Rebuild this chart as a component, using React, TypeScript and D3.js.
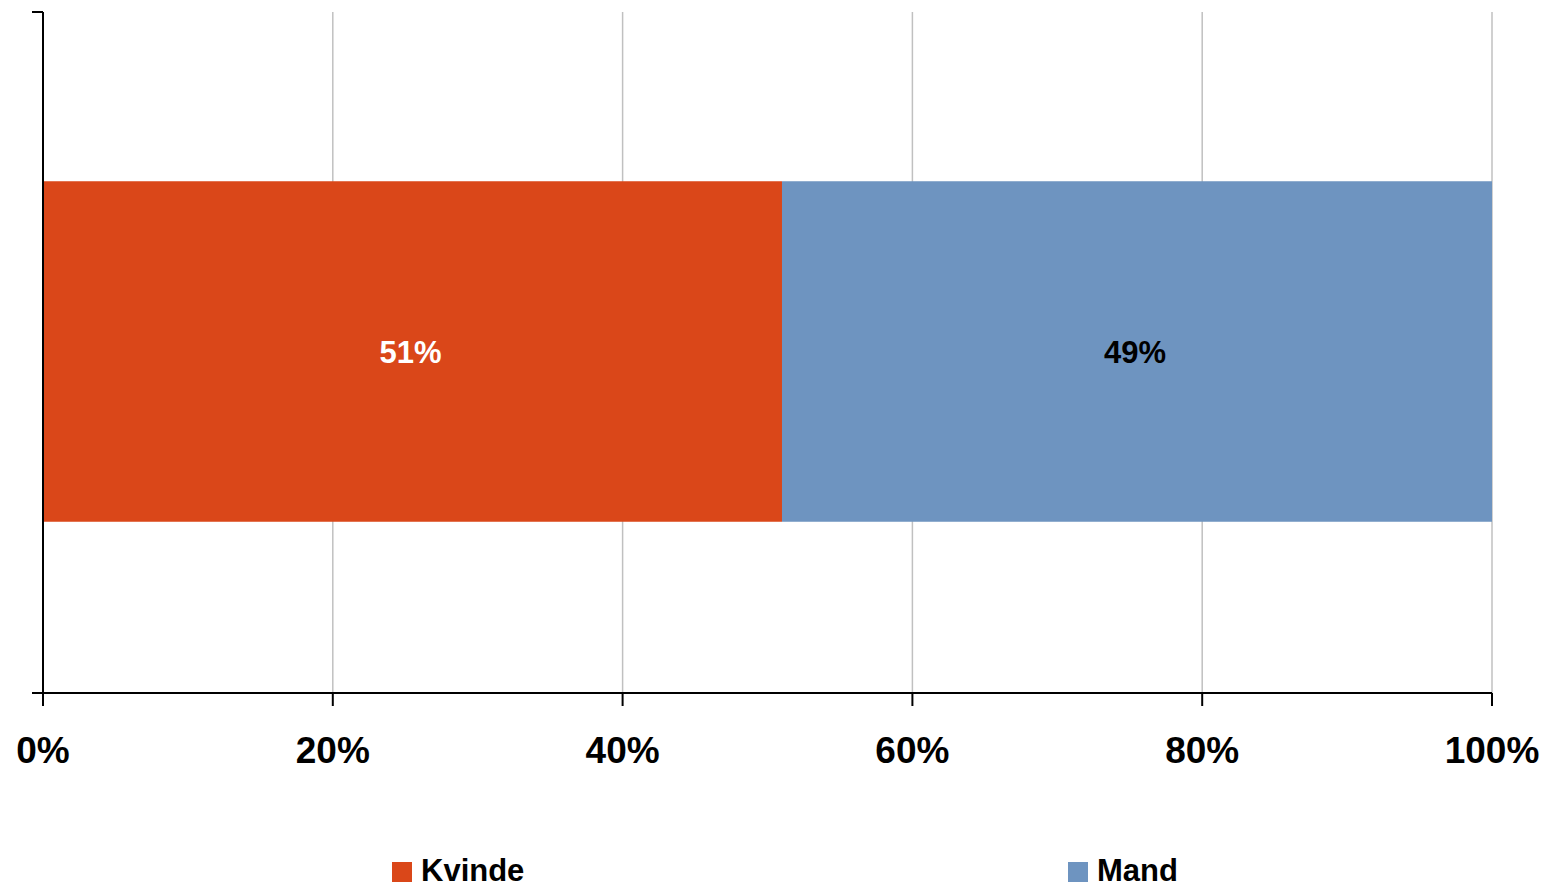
import { useEffect, useRef } from 'react';
import * as d3 from 'd3';

const categories = ['Køn'];
const seriesNames = ['Kvinde', 'Mand'];
const seriesValues = [[0.51], [0.49]];
const seriesColors = ['#da4719', '#6e94c0'];
const labelColors = ['#ffffff', '#000000'];
const xTicks = [0, 0.2, 0.4, 0.6, 0.8, 1];

export default function App() {
  const svgRef = useRef<SVGSVGElement>(null);

  useEffect(() => {
    if (!svgRef.current) return;
    const svg = d3.select(svgRef.current);
    svg.selectAll('*').remove();

    const width = 1546;
    const margin = { top: 12, right: 54, bottom: 196, left: 43 };
    const plotBottom = 889 - margin.bottom;

    const x = d3.scaleLinear().domain([0, 1]).range([margin.left, width - margin.right]);
    const y = d3
      .scaleBand<string>()
      .domain(categories)
      .range([margin.top, plotBottom])
      .paddingInner(0.5)
      .paddingOuter(0.25);

    const font = 'Liberation Sans, Arial, sans-serif';

    // Gridlines
    svg.append('g')
      .selectAll('line')
      .data(xTicks.slice(1))
      .enter()
      .append('line')
      .attr('x1', d => x(d))
      .attr('x2', d => x(d))
      .attr('y1', margin.top)
      .attr('y2', plotBottom)
      .attr('stroke', '#c0c0c0')
      .attr('stroke-width', 1.5);

    // Stacked bars
    categories.forEach((cat, ci) => {
      let acc = 0;
      seriesValues.forEach((vals, si) => {
        const v = vals[ci];
        const x0 = x(acc);
        const x1 = x(acc + v);
        svg.append('rect')
          .attr('x', x0)
          .attr('y', (y(cat) || 0) - 1)
          .attr('width', x1 - x0)
          .attr('height', y.bandwidth())
          .attr('fill', seriesColors[si]);
        svg.append('text')
          .attr('x', (x0 + x1) / 2 - 2)
          .attr('y', (y(cat) || 0) + y.bandwidth() / 2 + 10)
          .attr('text-anchor', 'middle')
          .attr('fill', labelColors[si])
          .style('font-family', font)
          .style('font-weight', 'bold')
          .style('font-size', '31px')
          .text(`${Math.round(v * 100)}%`);
        acc += v;
      });
    });

    // Y axis line with band-edge ticks
    svg.append('line')
      .attr('x1', margin.left).attr('x2', margin.left)
      .attr('y1', margin.top).attr('y2', plotBottom)
      .attr('stroke', '#000').attr('stroke-width', 2);
    [margin.top, plotBottom].forEach(yy => {
      svg.append('line')
        .attr('x1', margin.left - 11).attr('x2', margin.left)
        .attr('y1', yy).attr('y2', yy)
        .attr('stroke', '#000').attr('stroke-width', 2);
    });

    // X axis
    svg.append('line')
      .attr('x1', margin.left).attr('x2', x(1))
      .attr('y1', plotBottom).attr('y2', plotBottom)
      .attr('stroke', '#000').attr('stroke-width', 2);

    const ticks = svg.append('g');
    ticks.selectAll('line')
      .data(xTicks)
      .enter()
      .append('line')
      .attr('x1', d => x(d)).attr('x2', d => x(d))
      .attr('y1', plotBottom).attr('y2', plotBottom + 13)
      .attr('stroke', '#000').attr('stroke-width', 2);
    ticks.selectAll('text')
      .data(xTicks)
      .enter()
      .append('text')
      .attr('x', d => x(d))
      .attr('y', plotBottom + 70)
      .attr('text-anchor', 'middle')
      .attr('fill', '#000')
      .style('font-family', font)
      .style('font-weight', 'bold')
      .style('font-size', '37px')
      .text(d => `${Math.round(d * 100)}%`);

    // Legend
    const legendX = [392, 1068];
    seriesNames.forEach((name, i) => {
      svg.append('rect')
        .attr('x', legendX[i]).attr('y', 862)
        .attr('width', 20).attr('height', 20)
        .attr('fill', seriesColors[i]);
      svg.append('text')
        .attr('x', legendX[i] + 29).attr('y', 881)
        .attr('fill', '#000')
        .style('font-family', font)
        .style('font-weight', 'bold')
        .style('font-size', '31px')
        .text(name);
    });
  }, []);

  return (
    <svg
      ref={svgRef}
      width={1546}
      height={889}
      style={{ position: 'absolute', left: 0, top: 0, background: '#fff' }}
    />
  );
}
